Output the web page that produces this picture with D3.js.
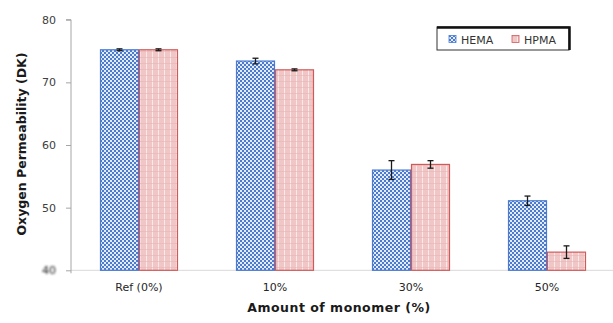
<!DOCTYPE html>
<html>
<head>
<meta charset="utf-8">
<script src="https://cdn.jsdelivr.net/npm/d3@7"></script>
<style>
  html, body { margin: 0; padding: 0; background: #fff; }
  svg { display: block; font-family: "DejaVu Sans", "Liberation Sans", sans-serif; }
</style>
</head>
<body>
<svg id="chart" width="613" height="323"></svg>
<script>
// Oxygen permeability by monomer content
const categories = ["Ref (0%)", "10%", "30%", "50%"];
const seriesNames = ["HEMA", "HPMA"];
const hemaValues = [75.2, 73.4, 56.0, 51.1];
const hemaErrors = [0.15, 0.45, 1.5, 0.75];
const hpmaValues = [75.2, 72.0, 56.9, 42.9];
const hpmaErrors = [0.15, 0.15, 0.6, 1.0];
const yTicks = [40, 50, 60, 70, 80];

const svg = d3.select("#chart");
const defs = svg.append("defs");

// checkered fill for HEMA
const chk = defs.append("pattern").attr("id", "checks")
  .attr("patternUnits", "userSpaceOnUse").attr("width", 4).attr("height", 4);
chk.append("rect").attr("width", 4).attr("height", 4).attr("fill", "#e4ecf9");
chk.append("rect").attr("width", 2).attr("height", 2).attr("fill", "#4a7bd0");
chk.append("rect").attr("x", 2).attr("y", 2).attr("width", 2).attr("height", 2).attr("fill", "#4a7bd0");

// striped fill for HPMA
const str = defs.append("pattern").attr("id", "stripes")
  .attr("patternUnits", "userSpaceOnUse").attr("width", 6).attr("height", 6);
str.append("rect").attr("width", 6).attr("height", 6).attr("fill", "#f0c6c6");
str.append("rect").attr("x", 2).attr("width", 1).attr("height", 6).attr("fill", "#fae9e9");
str.append("rect").attr("y", 3).attr("width", 6).attr("height", 1).attr("fill", "#e8b5b5").attr("opacity", 0.6);

const blur = defs.append("filter").attr("id", "soft");
blur.append("feGaussianBlur").attr("stdDeviation", 0.9);

const plotLeft = 71, plotRight = 615, plotTop = 19.7, plotBottom = 270.3;

const x = d3.scaleBand().domain(categories).range([plotLeft, plotRight])
  .paddingInner(0.4265).paddingOuter(0.2132);
const xs = d3.scaleBand().domain(seriesNames).range([0, x.bandwidth()]);
const y = d3.scaleLinear().domain([40, 80]).range([plotBottom, plotTop]);

// x axis line
svg.append("line").attr("x1", plotLeft).attr("x2", 613)
  .attr("y1", y(40)).attr("y2", y(40)).attr("stroke", "#d9d9d9").attr("stroke-width", 1);

// y axis
const yAxis = svg.append("g").attr("transform", `translate(${plotLeft},0)`)
  .call(d3.axisLeft(y).tickValues(yTicks).tickSize(5).tickPadding(10).tickFormat(d3.format("d")));
yAxis.select(".domain").attr("stroke", "#a6a6a6").attr("d", `M0,${plotTop}H-5M0,${plotTop}V${plotBottom + 3}`);
yAxis.selectAll(".tick line").attr("stroke", "#a6a6a6");
yAxis.selectAll(".tick text")
  .attr("fill", d => d === 40 ? "#222" : "#404040")
  .style("font-size", "11px").style("font-family", "DejaVu Sans")
  .attr("filter", d => d === 40 ? "url(#soft)" : null);

// bars
const rows = categories.map((c, i) => [
  { cat: c, s: "HEMA", v: hemaValues[i], e: hemaErrors[i] },
  { cat: c, s: "HPMA", v: hpmaValues[i], e: hpmaErrors[i] }
]).flat();

const fills = { HEMA: "url(#checks)", HPMA: "url(#stripes)" };
const strokes = { HEMA: "#4a7bd0", HPMA: "#d05a5a" };

svg.append("g").selectAll("rect").data(rows).join("rect")
  .attr("x", d => x(d.cat) + xs(d.s) + 0.5)
  .attr("y", d => y(d.v))
  .attr("width", xs.bandwidth() - 1)
  .attr("height", d => y(40) - y(d.v))
  .attr("fill", d => fills[d.s])
  .attr("stroke", d => strokes[d.s]).attr("stroke-width", 1.2);

// error bars
const eb = svg.append("g").attr("stroke", "#1a1a1a").attr("stroke-width", 1.3);
rows.forEach(d => {
  const cx = x(d.cat) + xs(d.s) + xs.bandwidth() / 2;
  eb.append("line").attr("x1", cx).attr("x2", cx).attr("y1", y(d.v + d.e)).attr("y2", y(d.v - d.e));
  eb.append("line").attr("x1", cx - 3).attr("x2", cx + 3).attr("y1", y(d.v + d.e)).attr("y2", y(d.v + d.e));
  eb.append("line").attr("x1", cx - 3).attr("x2", cx + 3).attr("y1", y(d.v - d.e)).attr("y2", y(d.v - d.e));
});

// category labels
svg.append("g").selectAll("text").data(categories).join("text")
  .attr("x", d => x(d) + x.bandwidth() / 2).attr("y", 291)
  .attr("text-anchor", "middle").attr("fill", "#262626").style("font-size", "11px")
  .text(d => d);

// axis titles
svg.append("text").attr("x", 339).attr("y", 312).attr("text-anchor", "middle")
  .attr("fill", "#1a1a1a").style("font-size", "12.5px").style("font-weight", "bold")
  .style("letter-spacing", "0.5px")
  .text("Amount of monomer (%)");
svg.append("text").attr("transform", "translate(26,144) rotate(-90)").attr("text-anchor", "middle")
  .attr("fill", "#1a1a1a").style("font-size", "12.5px").style("font-weight", "bold")
  .text("Oxygen Permeability (DK)");

// legend
const lg = svg.append("g").attr("transform", "translate(437,27)");
lg.append("rect").attr("width", 132).attr("height", 23).attr("fill", "#fff")
  .attr("stroke", "#333").attr("stroke-width", 1);
lg.append("path").attr("d", "M0,0.5H132.5V23").attr("fill", "none").attr("stroke", "#111").attr("stroke-width", 2.5);
const items = [{ s: "HEMA", x: 12 }, { s: "HPMA", x: 75 }];
items.forEach(it => {
  lg.append("rect").attr("x", it.x).attr("y", 8.5).attr("width", 7).attr("height", 7)
    .attr("fill", fills[it.s]).attr("stroke", strokes[it.s]).attr("stroke-width", 0.8);
  lg.append("text").attr("x", it.x + 12).attr("y", 16.5).attr("fill", "#333")
    .style("font-size", "11px").text(it.s);
});
</script>
</body>
</html>
